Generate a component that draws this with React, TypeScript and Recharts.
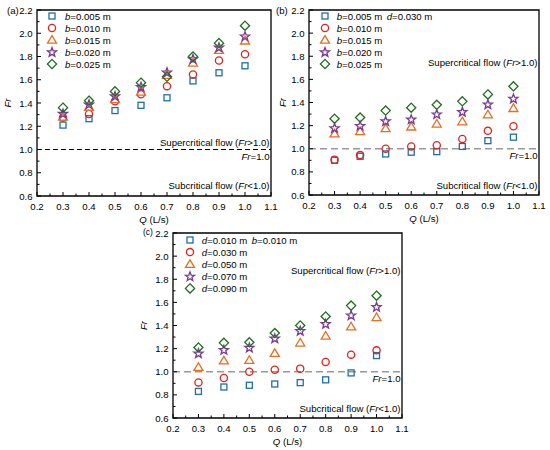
import React from 'react';
import {
  ScatterChart,
  Scatter,
  XAxis,
  YAxis,
  ReferenceLine,
  ReferenceArea,
  Legend,
} from 'recharts';

const Q_VALUES = [0.3, 0.4, 0.5, 0.6, 0.7, 0.8, 0.9, 1.0];
const X_TICKS = [
  0.2, 0.25, 0.3, 0.35, 0.4, 0.45, 0.5, 0.55, 0.6, 0.65, 0.7, 0.75, 0.8, 0.85, 0.9, 0.95, 1.0, 1.05, 1.1,
];
const Y_TICKS = [0.6, 0.7, 0.8, 0.9, 1.0, 1.1, 1.2, 1.3, 1.4, 1.5, 1.6, 1.7, 1.8, 1.9, 2.0, 2.1, 2.2];

// (a) slit width b
const A_LABELS = ['0.005', '0.010', '0.015', '0.020', '0.025'];
const A_B005 = [1.21, 1.265, 1.335, 1.38, 1.445, 1.59, 1.66, 1.72];
const A_B010 = [1.275, 1.305, 1.415, 1.475, 1.545, 1.645, 1.765, 1.82];
const A_B015 = [1.28, 1.365, 1.43, 1.495, 1.64, 1.745, 1.855, 1.935];
const A_B020 = [1.31, 1.39, 1.46, 1.54, 1.665, 1.78, 1.88, 1.975];
const A_B025 = [1.36, 1.42, 1.5, 1.575, 1.625, 1.8, 1.915, 2.065];

// (b) slit width b, d = 0.030 m
const B_LABELS = ['0.005', '0.010', '0.015', '0.020', '0.025'];
const B_B005 = [0.9, 0.935, 0.955, 0.97, 0.975, 1.02, 1.07, 1.1];
const B_B010 = [0.905, 0.945, 1.0, 1.02, 1.03, 1.085, 1.155, 1.195];
const B_B015 = [1.13, 1.15, 1.175, 1.19, 1.215, 1.235, 1.295, 1.35];
const B_B020 = [1.18, 1.2, 1.24, 1.255, 1.3, 1.32, 1.385, 1.435];
const B_B025 = [1.26, 1.27, 1.33, 1.355, 1.38, 1.41, 1.47, 1.54];

// (c) spacing d, b = 0.010 m
const C_LABELS = ['0.010', '0.030', '0.050', '0.070', '0.090'];
const C_D010 = [0.83, 0.868, 0.883, 0.894, 0.906, 0.93, 0.99, 1.14];
const C_D030 = [0.908, 0.946, 1.0, 1.017, 1.027, 1.085, 1.148, 1.185];
const C_D050 = [1.04, 1.095, 1.1, 1.16, 1.25, 1.31, 1.39, 1.47];
const C_D070 = [1.16, 1.19, 1.21, 1.29, 1.355, 1.415, 1.49, 1.562];
const C_D090 = [1.21, 1.25, 1.255, 1.335, 1.4, 1.478, 1.572, 1.658];

type Kind = 'square' | 'circle' | 'triangle' | 'star' | 'diamond';
const KINDS: Kind[] = ['square', 'circle', 'triangle', 'star', 'diamond'];
const COLORS = ['#1f6ea6', '#e3201b', '#e86d1f', '#7b3a93', '#1f6e1f'];

const FONT = '"Liberation Sans", Arial, sans-serif';
const FS = 9.6;

const starPoints = (cx: number, cy: number, r1: number, r2: number) => {
  const pts: string[] = [];
  for (let i = 0; i < 10; i++) {
    const r = i % 2 === 0 ? r1 : r2;
    const a = -Math.PI / 2 + (i * Math.PI) / 5;
    pts.push(`${cx + r * Math.cos(a)},${cy + r * Math.sin(a)}`);
  }
  return pts.join(' ');
};

const Marker = ({ kind, cx, cy, color }: { kind: Kind; cx: number; cy: number; color: string }) => {
  const common = { fill: 'none', stroke: color, strokeWidth: 1.3 };
  switch (kind) {
    case 'square':
      return <rect x={cx - 3} y={cy - 3} width={6} height={6} {...common} />;
    case 'circle':
      return <circle cx={cx} cy={cy} r={3.6} {...common} />;
    case 'triangle':
      return (
        <polygon
          points={`${cx},${cy - 4.4} ${cx + 4.5},${cy + 3.2} ${cx - 4.5},${cy + 3.2}`}
          {...common}
        />
      );
    case 'star':
      return <polygon points={starPoints(cx, cy + 0.4, 4.8, 2.0)} {...common} />;
    default:
      return (
        <polygon
          points={`${cx},${cy - 4.6} ${cx + 4.6},${cy} ${cx},${cy + 4.6} ${cx - 4.6},${cy}`}
          {...common}
        />
      );
  }
};

const isMajorX = (v: number) => Math.abs(v * 10 - Math.round(v * 10)) < 1e-6;
const isMajorY = (v: number) => Math.round(v * 10) % 2 === 0;

const XTick = (props: any) => {
  const { x, y, payload } = props;
  const v = payload.value as number;
  const major = isMajorX(v);
  return (
    <g>
      <line x1={x} x2={x} y1={y} y2={y - (major ? 4 : 2.5)} stroke="#000" strokeWidth={1} />
      {major && (
        <text x={x} y={y + 13.5} textAnchor="middle" fontSize={FS} fontFamily={FONT} fill="#000">
          {v.toFixed(1)}
        </text>
      )}
    </g>
  );
};

const YTick = (props: any) => {
  const { x, y, payload } = props;
  const v = payload.value as number;
  const major = isMajorY(v);
  return (
    <g>
      <line x1={x} x2={x + (major ? 4 : 2.5)} y1={y} y2={y} stroke="#000" strokeWidth={1} />
      {major && (
        <text x={x - 4.5} y={y + 3.5} textAnchor="end" fontSize={FS} fontFamily={FONT} fill="#000">
          {v.toFixed(1)}
        </text>
      )}
    </g>
  );
};

interface PanelProps {
  letter: string;
  left: number;
  top: number;
  width: number;
  height: number;
  margin: { top: number; right: number; bottom: number; left: number };
  yAxisWidth: number;
  xAxisHeight: number;
  series: number[][];
  labels: string[];
  varName: string;
  extra: { name: string; value: string };
  legendLeft: number;
  legendTop: number;
  legendTextX: number;
  extraX: number;
  rowGap: number;
  superY: number;
  lineColor: string;
  lineDash: string;
  lineWidth: number;
  letterX: number;
  letterY: number;
  letterSize: number;
  frX: number;
}

const Panel: React.FC<PanelProps> = (p) => {
  const plotTop = p.margin.top;
  const plotBottom = p.height - p.margin.bottom - p.xAxisHeight;
  const plotLeft = p.margin.left + p.yAxisWidth;
  const plotRight = p.width - p.margin.right;
  const midY = (plotTop + plotBottom) / 2;
  const midX = (plotLeft + plotRight) / 2;
  const textProps = { fontSize: FS, fontFamily: FONT, fill: '#000' };

  const renderLegend = () => (
    <svg width={160} height={66} style={{ display: 'block', overflow: 'visible' }}>
      {p.labels.map((lab, i) => {
        const y = 6 + i * p.rowGap;
        return (
          <g key={lab}>
            <Marker kind={KINDS[i]} cx={7} cy={y} color={COLORS[i]} />
            <text x={p.legendTextX} y={y + 3.5} {...textProps}>
              <tspan fontStyle="italic">{p.varName}</tspan>={lab} m
            </text>
          </g>
        );
      })}
      {p.extra.name && (
        <text x={p.extraX} y={9.5} {...textProps}>
          <tspan fontStyle="italic">{p.extra.name}</tspan>={p.extra.value} m
        </text>
      )}
    </svg>
  );

  return (
    <div style={{ position: 'absolute', left: p.left, top: p.top, width: p.width, height: p.height }}>
      <ScatterChart width={p.width} height={p.height} margin={p.margin}>
        <XAxis
          type="number"
          dataKey="q"
          domain={[0.2, 1.1]}
          ticks={X_TICKS}
          interval={0}
          height={p.xAxisHeight}
          axisLine={false}
          tickLine={false}
          tickSize={0}
          tickMargin={0}
          tick={<XTick />}
          allowDataOverflow
          label={() => (
            <text x={midX} y={plotBottom + 26.5} textAnchor="middle" {...textProps}>
              <tspan fontStyle="italic">Q</tspan> (L/s)
            </text>
          )}
        />
        <YAxis
          type="number"
          dataKey="fr"
          domain={[0.6, 2.2]}
          ticks={Y_TICKS}
          interval={0}
          width={p.yAxisWidth}
          axisLine={false}
          tickLine={false}
          tickSize={0}
          tickMargin={0}
          tick={<YTick />}
          allowDataOverflow
          label={() => (
            <g>
              <text
                x={p.frX}
                y={midY}
                transform={`rotate(-90, ${p.frX}, ${midY})`}
                textAnchor="middle"
                fontStyle="italic"
                {...textProps}
              >
                Fr
              </text>
              <text x={p.letterX} y={p.letterY} {...textProps} fontSize={p.letterSize}>
                {p.letter}
              </text>
            </g>
          )}
        />
        <ReferenceLine
          y={p.superY}
          stroke="none"
          label={(lp: any) => (
            <text x={plotRight - 1.5} y={lp.viewBox ? lp.viewBox.y : 0} textAnchor="end" {...textProps}>
              Supercritical flow (<tspan fontStyle="italic">Fr</tspan>&gt;1.0)
            </text>
          )}
        />
        <ReferenceLine
          y={0.656}
          stroke="none"
          label={(lp: any) => (
            <text x={plotRight - 1.5} y={lp.viewBox ? lp.viewBox.y : 0} textAnchor="end" {...textProps}>
              Subcritical flow (<tspan fontStyle="italic">Fr</tspan>&lt;1.0)
            </text>
          )}
        />
        <ReferenceLine
          y={1}
          stroke={p.lineColor}
          strokeDasharray={p.lineDash}
          strokeWidth={p.lineWidth}
          label={(lp: any) => (
            <text x={plotRight - 1.5} y={(lp.viewBox ? lp.viewBox.y : 0) + 10} textAnchor="end" {...textProps}>
              <tspan fontStyle="italic">Fr</tspan>=1.0
            </text>
          )}
        />
        <ReferenceArea x1={0.2} x2={1.1} y1={0.6} y2={2.2} fill="none" stroke="#000" strokeWidth={1.3} />
        {p.series.map((vals, i) => (
          <Scatter
            key={i}
            name={p.labels[i]}
            data={Q_VALUES.map((q, j) => ({ q, fr: vals[j] }))}
            isAnimationActive={false}
            shape={(sp: any) => <Marker kind={KINDS[i]} cx={sp.cx} cy={sp.cy} color={COLORS[i]} />}
          />
        ))}
        <Legend
          layout="vertical"
          align="center"
          verticalAlign="middle"
          content={renderLegend}
          wrapperStyle={{ left: p.legendLeft, top: p.legendTop, width: 160, height: 66 }}
        />
      </ScatterChart>
    </div>
  );
};

export default function App() {
  return (
    <div style={{ position: 'absolute', left: 0, top: 0, width: 550, height: 450, background: '#fff' }}>
      <Panel
        letter="(a)"
        left={0}
        top={0}
        width={280}
        height={225}
        margin={{ top: 10, right: 9, bottom: 0, left: 0 }}
        yAxisWidth={37}
        xAxisHeight={29}
        series={[A_B005, A_B010, A_B015, A_B020, A_B025]}
        labels={A_LABELS}
        varName="b"
        extra={{ name: '', value: '' }}
        legendLeft={45}
        legendTop={10}
        legendTextX={20}
        extraX={0}
        rowGap={12}
        superY={1.028}
        lineColor="#000"
        lineDash="5 3"
        lineWidth={1.2}
        letterX={7}
        letterY={13.5}
        letterSize={FS}
        frX={11}
      />
      <Panel
        letter="(b)"
        left={275}
        top={0}
        width={275}
        height={225}
        margin={{ top: 10, right: 11, bottom: 0, left: 0 }}
        yAxisWidth={34}
        xAxisHeight={30}
        series={[B_B005, B_B010, B_B015, B_B020, B_B025]}
        labels={B_LABELS}
        varName="b"
        extra={{ name: 'd', value: '0.030' }}
        legendLeft={43}
        legendTop={10}
        legendTextX={18.7}
        extraX={68.7}
        rowGap={12}
        superY={1.72}
        lineColor="#999"
        lineDash="7 4"
        lineWidth={1.5}
        letterX={1}
        letterY={13.5}
        letterSize={FS}
        frX={11}
      />
      <Panel
        letter="(c)"
        left={130}
        top={225}
        width={280}
        height={225}
        margin={{ top: 8, right: 8, bottom: 0, left: 0 }}
        yAxisWidth={43}
        xAxisHeight={32}
        series={[C_D010, C_D030, C_D050, C_D070, C_D090]}
        labels={C_LABELS}
        varName="d"
        extra={{ name: 'b', value: '0.010' }}
        legendLeft={53}
        legendTop={9}
        legendTextX={18.7}
        extraX={68.7}
        rowGap={12.1}
        superY={1.844}
        lineColor="#999"
        lineDash="7 4"
        lineWidth={1.5}
        letterX={13}
        letterY={9.5}
        letterSize={8.5}
        frX={17}
      />
    </div>
  );
}
